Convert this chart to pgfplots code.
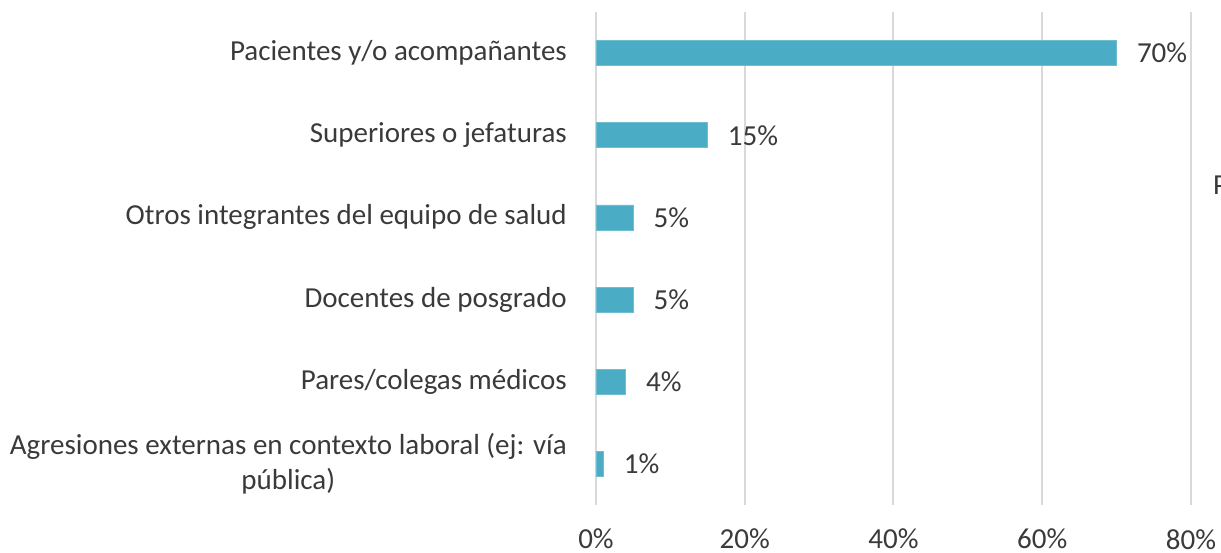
\documentclass[border=0pt]{standalone}
\usepackage{pgfplots}
\pgfplotsset{compat=1.18}
\usepackage{fontspec}
\setmainfont{Carlito}
\definecolor{barc}{HTML}{4BACC6}
\definecolor{txt}{HTML}{3A3A3A}
\definecolor{gridc}{HTML}{D9D9D9}
\begin{document}
\fontsize{29}{35}\selectfont
\begin{tikzpicture}[x=1pt,y=1pt]
\useasboundingbox (0,0) rectangle (1221,553);
\begin{axis}[
  at={(596pt,48pt)}, anchor=south west,
  scale only axis, width=595pt, height=493pt,
  xmin=0, xmax=80, ymin=-0.5, ymax=5.5,
  xbar, bar width=25pt,
  axis line style={draw=none},
  major tick length=0pt,
  xmajorgrids, grid style={gridc, line width=2pt},
  xtick={0,20,40,60,80},
  xticklabels={0\%,20\%,40\%,60\%,80\%},
  ytick={0,1,2,3,4,5},
  yticklabels={{Agresiones externas en contexto laboral (ej: vía\\pública)},
    {Pares/colegas médicos},{Docentes de posgrado},
    {Otros integrantes del equipo de salud},{Superiores o jefaturas},
    {Pacientes y/o acompañantes}},
  y tick label style={align=center, inner sep=0pt, xshift=-29pt, text=txt},
  x tick label style={inner sep=0pt, text depth=0pt, yshift=-24pt, text=txt},
  /pgf/number format/assume math mode=true,
  nodes near coords={\pgfmathprintnumber{\pgfplotspointmeta}\%},
  nodes near coords style={anchor=west, inner sep=0pt, xshift=20pt, text=txt},
]
\addplot[fill=barc, draw=barc!80!white, line width=0.8pt] coordinates {(1,0) (4,1) (5,2) (5,3) (15,4) (70,5)};
\end{axis}
\node[anchor=west, inner sep=0pt, text=txt] at (1213,368) {P};
\end{tikzpicture}
\end{document}
